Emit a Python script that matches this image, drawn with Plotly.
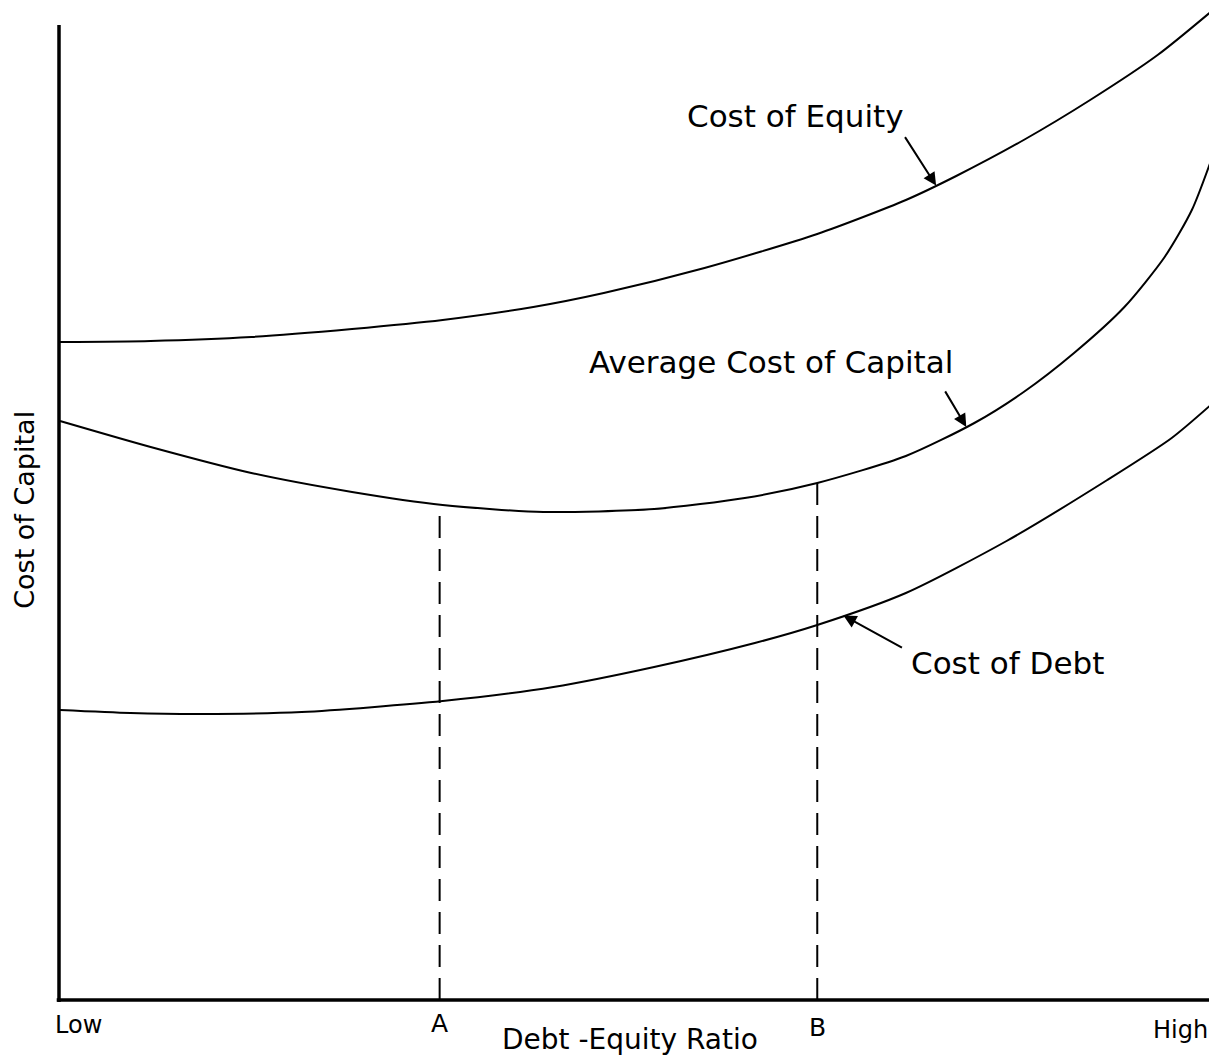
import numpy as np
import plotly.graph_objects as go

# Debt-equity ratio positions (arbitrary units, Low=0 .. High=1146) and cost levels (arbitrary units)
equity_x = [1, 91, 191, 291, 381, 471, 541, 641, 753, 841, 891, 958, 1024, 1091, 1146]
equity_y = [658, 659, 663, 671, 680, 693, 707, 732, 766, 800, 824, 860, 900, 945, 990]

average_x = [1, 91, 191, 291, 381, 481, 591, 681, 753, 841, 909, 958, 1008, 1058, 1098, 1125, 1146]
average_y = [579, 553, 527, 508, 495, 488, 491, 502, 517, 544, 577, 608, 647, 693, 743, 790, 845]

debt_x = [1, 71, 141, 241, 381, 491, 591, 691, 753, 841, 941, 1041, 1105, 1146]
debt_y = [290, 287, 286, 288, 299, 313, 333, 357, 375, 407, 459, 520, 562, 597]

point_a = 378
point_b = 753
x_labels = ["Low", "A", "B", "High"]

FONT = "DejaVu Sans"
fig = go.Figure()

for xs, ys in [(equity_x, equity_y), (average_x, average_y), (debt_x, debt_y)]:
    fig.add_trace(go.Scatter(x=xs, y=ys, mode="lines",
                             line=dict(color="black", width=2, shape="spline", smoothing=0.7),
                             hoverinfo="skip", showlegend=False, cliponaxis=False))

# dashed verticals at A and B up to the average cost curve
for xv in [point_a, point_b]:
    top = float(np.interp(xv, average_x, average_y))
    fig.add_trace(go.Scatter(x=[xv, xv], y=[0, top], mode="lines",
                             line=dict(color="black", width=2, dash="22px,11px"),
                             hoverinfo="skip", showlegend=False))

shapes = [
    dict(type="line", xref="paper", yref="paper", x0=0, x1=0, y0=-0.002, y1=975 / 990,
         line=dict(color="black", width=3.5), layer="above"),
    dict(type="line", xref="paper", yref="paper", x0=-0.002, x1=1.008, y0=0, y1=0,
         line=dict(color="black", width=3.5), layer="above"),
]

def py2paper(p):
    return (1000 - p) / 990.0

def px2paper(p):
    return (p - 59) / 1146.0

annotations = [
    dict(text="Cost of Equity", x=622, y=884, xref="x", yref="y", xanchor="left", yanchor="middle",
         showarrow=False, font=dict(family=FONT, size=31, color="black")),
    dict(text="Average Cost of Capital", x=524, y=638, xref="x", yref="y", xanchor="left", yanchor="middle",
         showarrow=False, font=dict(family=FONT, size=31, color="black")),
    dict(text="Cost of Debt", x=844, y=337, xref="x", yref="y", xanchor="left", yanchor="middle",
         showarrow=False, font=dict(family=FONT, size=31, color="black")),
    # arrows
    dict(text="", x=871, y=float(np.interp(871, equity_x, equity_y)), xref="x", yref="y",
         showarrow=True, arrowhead=2, arrowsize=1.3, arrowwidth=2, arrowcolor="black", ax=-32, ay=-50),
    dict(text="", x=901, y=float(np.interp(901, average_x, average_y)), xref="x", yref="y",
         showarrow=True, arrowhead=2, arrowsize=1.3, arrowwidth=2, arrowcolor="black", ax=-22, ay=-37),
    dict(text="", x=779, y=float(np.interp(779, debt_x, debt_y)), xref="x", yref="y",
         showarrow=True, arrowhead=2, arrowsize=1.3, arrowwidth=2, arrowcolor="black", ax=60, ay=33),
    # bottom labels
    dict(text=x_labels[0], x=px2paper(53), y=py2paper(1025), xref="paper", yref="paper", xanchor="left", yanchor="middle",
         showarrow=False, font=dict(family=FONT, size=24, color="black")),
    dict(text=x_labels[1], x=point_a, y=py2paper(1024), xref="x", yref="paper", xanchor="center", yanchor="middle",
         showarrow=False, font=dict(family=FONT, size=25, color="black")),
    dict(text=x_labels[2], x=point_b, y=py2paper(1027), xref="x", yref="paper", xanchor="center", yanchor="middle",
         showarrow=False, font=dict(family=FONT, size=25, color="black")),
    dict(text=x_labels[3], x=px2paper(1202), y=py2paper(1030), xref="paper", yref="paper", xanchor="right", yanchor="middle",
         showarrow=False, font=dict(family=FONT, size=24, color="black")),
    dict(text="Debt -Equity Ratio", x=567, y=py2paper(1039), xref="x", yref="paper", xanchor="center", yanchor="middle",
         showarrow=False, font=dict(family=FONT, size=28, color="black")),
    dict(text="Cost of Capital", x=px2paper(24), y=490, xref="paper", yref="y", xanchor="center", yanchor="middle",
         textangle=-90, showarrow=False, font=dict(family=FONT, size=27, color="black")),
]

# the page body adds an 8px offset, so the figure is 8px smaller and margins compensate
fig.update_layout(
    width=1209, height=1049,
    margin=dict(l=51, r=4, t=2, b=57),
    paper_bgcolor="white", plot_bgcolor="white",
    xaxis=dict(range=[0, 1146], visible=False, fixedrange=True),
    yaxis=dict(range=[0, 990], visible=False, fixedrange=True),
    shapes=shapes, annotations=annotations,
    showlegend=False,
)

fig.write_html("out.html")
